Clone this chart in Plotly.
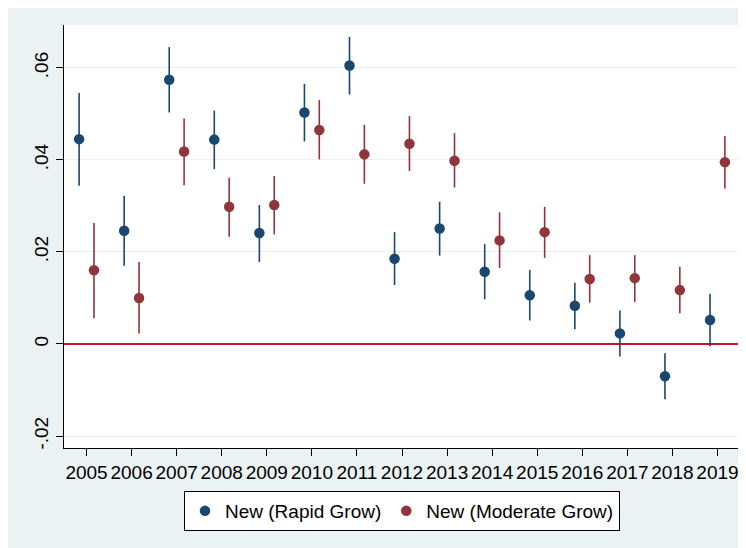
import plotly.graph_objects as go

years = list(range(2005, 2020))

rapid = [0.0445, 0.0246, 0.0574, 0.0444, 0.0241, 0.0503, 0.0605, 0.0185, 0.0251,
         0.0157, 0.0106, 0.0083, 0.0023, -0.0070, 0.0052]
rapid_hi = [0.0545, 0.0322, 0.0645, 0.0507, 0.0302, 0.0565, 0.0667, 0.0243, 0.0309,
            0.0217, 0.0161, 0.0133, 0.0073, -0.0020, 0.0109]
rapid_lo = [0.0344, 0.0170, 0.0503, 0.0380, 0.0178, 0.0440, 0.0542, 0.0128, 0.0192,
            0.0097, 0.0051, 0.0032, -0.0027, -0.0120, -0.0005]

moderate = [0.0160, 0.0100, 0.0418, 0.0298, 0.0302, 0.0465, 0.0412, 0.0435, 0.0398,
            0.0225, 0.0243, 0.0141, 0.0143, 0.0117, 0.0395]
moderate_hi = [0.0263, 0.0178, 0.0490, 0.0361, 0.0365, 0.0530, 0.0476, 0.0495, 0.0458,
               0.0286, 0.0298, 0.0193, 0.0193, 0.0168, 0.0452]
moderate_lo = [0.0056, 0.0023, 0.0345, 0.0233, 0.0238, 0.0401, 0.0348, 0.0376, 0.0340,
               0.0165, 0.0187, 0.0090, 0.0091, 0.0067, 0.0338]

ytick_vals = [-0.02, 0, 0.02, 0.04, 0.06]
ytick_text = ["-.02", "0", ".02", ".04", ".06"]

BLUE = "#1A476F"
RED = "#90353B"
BG = "#EAF2F3"
FONT = "Liberation Sans, Arial, sans-serif"

off = 0.165

fig = go.Figure()
fig.add_trace(go.Scatter(
    x=[y - off for y in years], y=rapid, mode="markers",
    name="New (Rapid Grow)",
    marker=dict(color=BLUE, size=10.5),
    error_y=dict(type="data", symmetric=False,
                 array=[h - v for h, v in zip(rapid_hi, rapid)],
                 arrayminus=[v - l for v, l in zip(rapid, rapid_lo)],
                 color=BLUE, thickness=1.6, width=0),
))
fig.add_trace(go.Scatter(
    x=[y + off for y in years], y=moderate, mode="markers",
    name="New (Moderate Grow)",
    marker=dict(color=RED, size=10.5),
    error_y=dict(type="data", symmetric=False,
                 array=[h - v for h, v in zip(moderate_hi, moderate)],
                 arrayminus=[v - l for v, l in zip(moderate, moderate_lo)],
                 color=RED, thickness=1.6, width=0),
))

# The page body has an 8px margin, so the figure sits at (8, 8) in the window.
OFF = 8
W, H = 746 - OFF, 548 - OFF
L, R, T, B = 64 - OFF, 6, 25 - OFF, 100
pw, ph = W - L - R, H - T - B


def py(yp):
    # window pixel y -> paper y
    return (H - B - (yp - OFF)) / ph


fig.update_layout(
    width=W, height=H,
    margin=dict(l=L, r=R, t=T, b=B),
    paper_bgcolor=BG, plot_bgcolor="white",
    font=dict(family=FONT, color="black"),
    showlegend=True,
    legend=dict(orientation="h", x=0.5, xanchor="center", y=py(491), yanchor="top",
                bordercolor="black", borderwidth=1, bgcolor="white",
                font=dict(size=19, family=FONT)),
    xaxis=dict(range=[2004.5, 2019.5], tickmode="array", tickvals=years,
               ticktext=[str(y) for y in years], tickangle=0, showgrid=False, zeroline=False,
               showline=True, linecolor="black", linewidth=1.3,
               ticks="outside", ticklen=7, tickcolor="black", tickwidth=1.3,
               tickfont=dict(size=19)),
    yaxis=dict(range=[-0.0226, 0.0693], tickmode="array", tickvals=ytick_vals,
               ticktext=ytick_text, tickangle=-90, showgrid=True, gridcolor=BG,
               gridwidth=1.3, zeroline=True, zerolinecolor="#C8102E", zerolinewidth=1.6,
               showline=True, linecolor="black", linewidth=1.3,
               ticks="outside", ticklen=7, tickcolor="black", tickwidth=1.3,
               tickfont=dict(size=19)),
)

fig.write_html("out.html")
